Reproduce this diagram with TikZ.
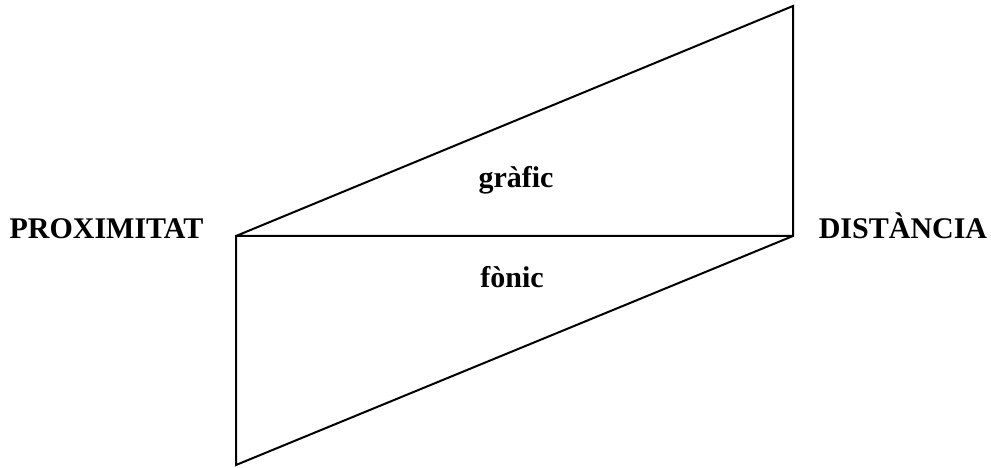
\documentclass[tikz,border=0pt]{standalone}
\usepackage{fontspec}
\setmainfont{Liberation Serif}
\begin{document}
\begin{tikzpicture}[x=1pt,y=1pt,
  lbl/.style={font=\bfseries\fontsize{30}{35}\selectfont, anchor=base, inner sep=0pt},
  edge/.style={line width=2pt, line join=miter}]
\useasboundingbox (0,0) rectangle (991,468);
\coordinate (A) at (236,232);
\coordinate (B) at (793,232);
\coordinate (C) at (793,462);
\coordinate (D) at (236,3);
\draw[edge] (A) -- (C) -- (B) -- (D) -- (A) -- (B);
\node[lbl] (prox) at (106.5,229) {PROXIMITAT};
\node[lbl] (dist) at (903,229) {DISTÀNCIA};
\node[lbl] (graf) at (516,280) {gràfic};
\node[lbl] (fon) at (512,180) {fònic};
\end{tikzpicture}
\end{document}
